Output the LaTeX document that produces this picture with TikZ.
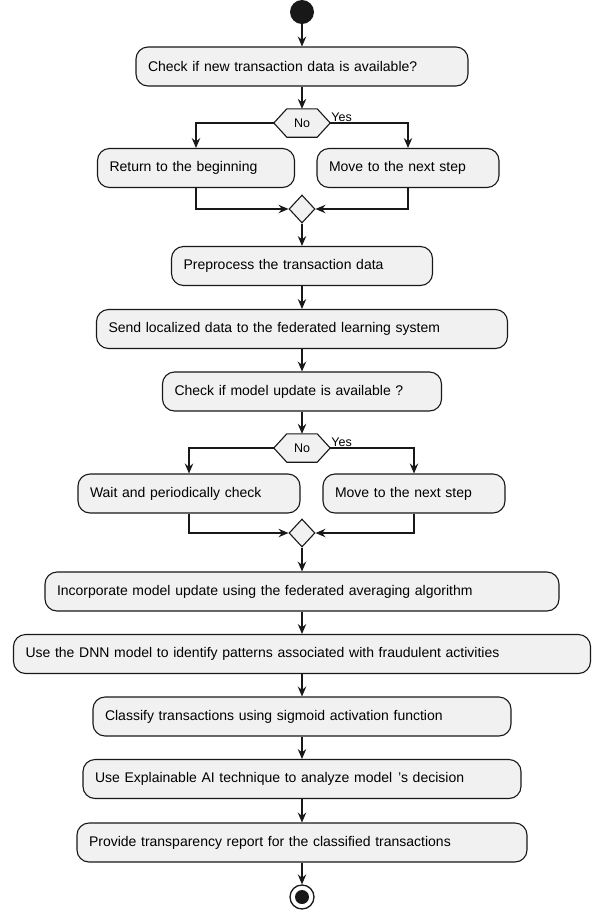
\documentclass[tikz,border=0pt]{standalone}
\usepackage{fontspec}
\setmainfont{Liberation Sans}
\usetikzlibrary{arrows.meta,shapes.geometric,backgrounds}
\definecolor{boxfill}{HTML}{F1F1F1}
\definecolor{linec}{HTML}{181818}
\begin{document}
\begin{tikzpicture}[x=1pt,y=-1pt,
  act/.style={draw=linec, fill=boxfill, line width=1.1pt, rounded corners=12pt,
    minimum height=39pt, inner ysep=0pt, inner xsep=12pt, align=left,
    font=\fontsize{14}{16}\selectfont},
  hexn/.style={minimum width=56pt, minimum height=28pt, inner sep=0pt, font=\fontsize{12.5}{14}\selectfont},
  hexd/.style={draw=linec, fill=boxfill, line width=1.1pt, line join=miter},
  merge/.style={diamond, draw=linec, fill=boxfill, line width=1.1pt, minimum width=26pt, minimum height=28pt, inner sep=0pt},
  lbl/.style={anchor=south west, inner sep=1pt, font=\fontsize{12.5}{14}\selectfont},
  arr/.style={draw=linec, line width=1.1pt, -{Stealth[length=10pt,width=8.5pt,inset=3.5pt]}},
  conn/.style={draw=linec, line width=1.1pt}
]
\useasboundingbox (0,0) rectangle (600,914);

\node[circle, fill=linec, minimum size=24pt, inner sep=0pt] (start) at (302,12) {};

\node[act, text width=308pt] (b1) at (302,66.5) {Check if new transaction data is available?};
\node[hexn] (d1) at (302,123) {No};
\begin{pgfonlayer}{background}
\draw[hexd] (d1.west) -- ([xshift=13pt]d1.north west) -- ([xshift=-13pt]d1.north east) -- (d1.east) -- ([xshift=-13pt]d1.south east) -- ([xshift=13pt]d1.south west) -- cycle;
\end{pgfonlayer}
\node[lbl] (y1) at (d1.east) {Yes};
\node[act, text width=173pt] (l1) at (196,168) {Return to the beginning};
\node[act, text width=158pt] (r1) at (408,168) {Move to the next step};
\node[merge] (m1) at (302,209) {};

\node[act, text width=237pt] (b2) at (302,266) {Preprocess the transaction data};
\node[act, text width=387pt] (b3) at (302,329) {Send localized data to the federated learning system};
\node[act, text width=255pt] (b4) at (302,391.5) {Check if model update is available ?};
\node[hexn] (d2) at (302,448) {No};
\begin{pgfonlayer}{background}
\draw[hexd] (d2.west) -- ([xshift=13pt]d2.north west) -- ([xshift=-13pt]d2.north east) -- (d2.east) -- ([xshift=-13pt]d2.south east) -- ([xshift=13pt]d2.south west) -- cycle;
\end{pgfonlayer}
\node[lbl] (y2) at (d2.east) {Yes};
\node[act, text width=198pt] (l2) at (189,493.5) {Wait and periodically check};
\node[act, text width=158pt] (r2) at (414,493.5) {Move to the next step};
\node[merge] (m2) at (302,533) {};

\node[act, text width=490pt] (b5) at (302,591.5) {Incorporate model update using the federated averaging algorithm};
\node[act, text width=553pt] (b6) at (302,654) {Use the DNN model to identify patterns associated with fraudulent activities};
\node[act, text width=394pt] (b7) at (302,716.5) {Classify transactions using sigmoid activation function};
\node[act, text width=414pt] (b8) at (302,779) {Use Explainable AI technique to analyze model\hspace{6pt}'s decision};
\node[act, text width=426pt] (b9) at (302,842.5) {Provide transparency report for the classified transactions};

\node[circle, draw=linec, fill=white, line width=1.3pt, minimum size=24pt, inner sep=0pt] (end) at (302,897) {};
\node[circle, fill=linec, minimum size=14pt, inner sep=0pt] (endin) at (end.center) {};

\draw[arr] (start) -- (b1);
\draw[arr] (b1) -- (d1);
\draw[arr] (d1.west) -| (l1.north);
\draw[arr] (d1.east) -| (r1.north);
\draw[arr] (l1.south) |- (m1.west);
\draw[arr] (r1.south) |- (m1.east);
\draw[arr] (m1) -- (b2);
\draw[arr] (b2) -- (b3);
\draw[arr] (b3) -- (b4);
\draw[arr] (b4) -- (d2);
\draw[arr] (d2.west) -| (l2.north);
\draw[arr] (d2.east) -| (r2.north);
\draw[arr] (l2.south) |- (m2.west);
\draw[arr] (r2.south) |- (m2.east);
\draw[arr] (m2) -- (b5);
\draw[arr] (b5) -- (b6);
\draw[arr] (b6) -- (b7);
\draw[arr] (b7) -- (b8);
\draw[arr] (b8) -- (b9);
\draw[arr] (b9) -- (end);
\end{tikzpicture}
\end{document}
